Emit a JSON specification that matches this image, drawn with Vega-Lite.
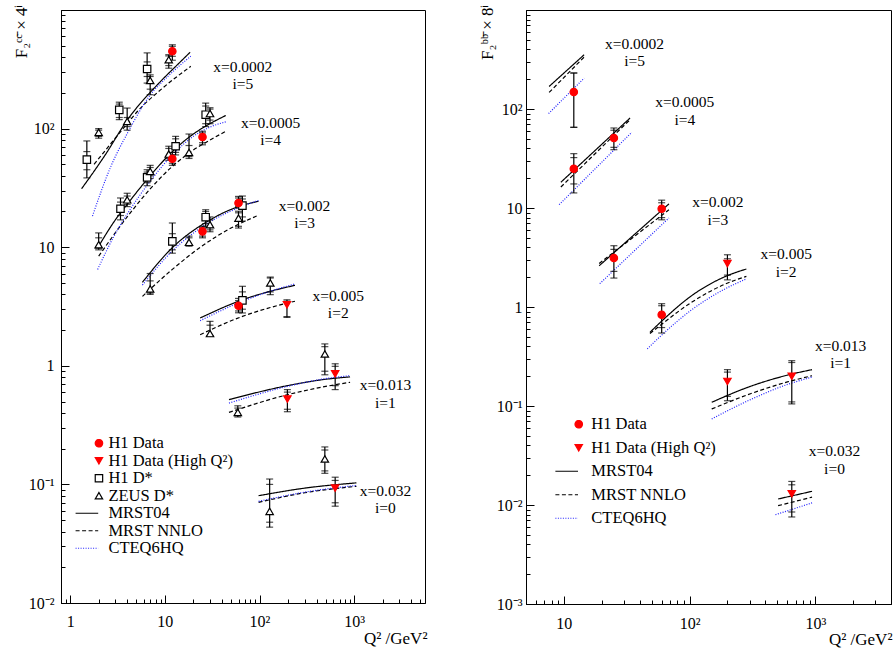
{
  "$schema": "https://vega.github.io/schema/vega-lite/v6.json",
  "background": "white",
  "autosize": {"type": "pad"},
  "padding": {"left": 11, "top": 1, "right": 0, "bottom": 0},
  "spacing": 101,
  "bounds": "flush",
  "resolve": {
    "scale": {"x": "independent", "y": "independent", "stroke": "independent", "strokeDash": "independent", "shape": "independent", "fill": "independent"},
    "legend": {"stroke": "independent", "strokeDash": "independent", "shape": "independent", "fill": "independent"}
  },
  "datasets": {
    "ptsL": [
      {"s": "H1 D*", "i": 5, "q2": 1.5, "f": 54.7, "lo": 38.4, "hi": 78.7, "slo": 45, "shi": 64},
      {"s": "ZEUS D*", "i": 5, "q2": 2.0, "f": 93, "lo": 83, "hi": 100, "slo": 86, "shi": 97},
      {"s": "H1 D*", "i": 5, "q2": 3.3, "f": 144, "lo": 119, "hi": 167, "slo": 124, "shi": 161},
      {"s": "ZEUS D*", "i": 5, "q2": 4.0, "f": 115, "lo": 97, "hi": 149, "slo": 104, "shi": 124},
      {"s": "H1 D*", "i": 5, "q2": 6.5, "f": 318, "lo": 242, "hi": 435, "slo": 275, "shi": 365},
      {"s": "ZEUS D*", "i": 5, "q2": 7.0, "f": 255, "lo": 193, "hi": 284, "slo": 215, "shi": 275},
      {"s": "ZEUS D*", "i": 5, "q2": 11, "f": 381, "lo": 323, "hi": 420, "slo": 340, "shi": 410},
      {"s": "H1 Data", "i": 5, "q2": 12, "f": 449, "lo": 377, "hi": 509, "slo": 407, "shi": 494},
      {"s": "ZEUS D*", "i": 4, "q2": 2.0, "f": 10.5, "lo": 9.5, "hi": 13.2, "slo": 9.8, "shi": 12},
      {"s": "H1 D*", "i": 4, "q2": 3.4, "f": 21.1, "lo": 17, "hi": 26, "slo": 18.5, "shi": 24},
      {"s": "ZEUS D*", "i": 4, "q2": 4.0, "f": 25.1, "lo": 22, "hi": 28.5, "slo": 23, "shi": 27},
      {"s": "H1 D*", "i": 4, "q2": 6.5, "f": 38.8, "lo": 33, "hi": 45, "slo": 35, "shi": 43},
      {"s": "ZEUS D*", "i": 4, "q2": 7.0, "f": 43.6, "lo": 38, "hi": 49, "slo": 40, "shi": 47},
      {"s": "ZEUS D*", "i": 4, "q2": 11, "f": 61, "lo": 54, "hi": 71, "slo": 56, "shi": 68},
      {"s": "H1 Data", "i": 4, "q2": 12, "f": 55.7, "lo": 49, "hi": 63, "slo": 51, "shi": 60},
      {"s": "H1 D*", "i": 4, "q2": 13, "f": 71, "lo": 60, "hi": 86, "slo": 63, "shi": 82},
      {"s": "ZEUS D*", "i": 4, "q2": 18, "f": 63, "lo": 56, "hi": 90, "slo": 58, "shi": 72},
      {"s": "H1 Data", "i": 4, "q2": 25, "f": 85, "lo": 73, "hi": 95, "slo": 76, "shi": 92},
      {"s": "H1 D*", "i": 4, "q2": 27, "f": 131, "lo": 104, "hi": 164, "slo": 110, "shi": 155},
      {"s": "ZEUS D*", "i": 4, "q2": 30, "f": 134, "lo": 110, "hi": 150, "slo": 118, "shi": 146},
      {"s": "ZEUS D*", "i": 3, "q2": 7.0, "f": 4.45, "lo": 4.0, "hi": 6.0, "slo": 4.1, "shi": 5.2},
      {"s": "H1 D*", "i": 3, "q2": 12, "f": 11.2, "lo": 8.9, "hi": 16, "slo": 9.5, "shi": 13},
      {"s": "ZEUS D*", "i": 3, "q2": 18, "f": 11.0, "lo": 10.2, "hi": 12.4, "slo": 10.4, "shi": 12},
      {"s": "H1 Data", "i": 3, "q2": 25, "f": 13.6, "lo": 12, "hi": 15, "slo": 12.4, "shi": 14.6},
      {"s": "H1 D*", "i": 3, "q2": 27, "f": 17.9, "lo": 15, "hi": 20.7, "slo": 15.8, "shi": 20},
      {"s": "ZEUS D*", "i": 3, "q2": 30, "f": 15.5, "lo": 13.5, "hi": 18, "slo": 14, "shi": 17},
      {"s": "ZEUS D*", "i": 3, "q2": 60, "f": 17.6, "lo": 14.5, "hi": 20.1, "slo": 15, "shi": 19.5},
      {"s": "H1 D*", "i": 3, "q2": 66, "f": 22.4, "lo": 16.6, "hi": 27, "slo": 18, "shi": 25.5},
      {"s": "H1 Data", "i": 3, "q2": 60, "f": 23.6, "lo": 21.4, "hi": 26.8, "slo": 22, "shi": 26},
      {"s": "ZEUS D*", "i": 2, "q2": 30, "f": 1.87, "lo": 1.77, "hi": 2.37, "slo": 1.8, "shi": 2.2},
      {"s": "H1 D*", "i": 2, "q2": 66, "f": 3.56, "lo": 2.79, "hi": 4.68, "slo": 3.0, "shi": 4.2},
      {"s": "H1 Data", "i": 2, "q2": 60, "f": 3.21, "lo": 2.8, "hi": 3.7, "slo": 2.9, "shi": 3.55},
      {"s": "ZEUS D*", "i": 2, "q2": 130, "f": 4.99, "lo": 3.98, "hi": 5.6, "slo": 4.2, "shi": 5.5},
      {"s": "H1 Data (High Q²)", "i": 2, "q2": 195, "f": 3.27, "lo": 2.56, "hi": 3.6, "slo": 2.6, "shi": 3.5},
      {"s": "ZEUS D*", "i": 1, "q2": 59, "f": 0.405, "lo": 0.37, "hi": 0.46, "slo": 0.38, "shi": 0.44},
      {"s": "H1 Data (High Q²)", "i": 1, "q2": 197, "f": 0.525, "lo": 0.41, "hi": 0.63, "slo": 0.43, "shi": 0.6},
      {"s": "ZEUS D*", "i": 1, "q2": 490, "f": 1.26, "lo": 0.84, "hi": 1.53, "slo": 0.9, "shi": 1.45},
      {"s": "H1 Data (High Q²)", "i": 1, "q2": 630, "f": 0.857, "lo": 0.63, "hi": 1.04, "slo": 0.68, "shi": 0.99},
      {"s": "ZEUS D*", "i": 0, "q2": 128, "f": 0.0593, "lo": 0.0436, "hi": 0.111, "slo": 0.048, "shi": 0.1},
      {"s": "ZEUS D*", "i": 0, "q2": 490, "f": 0.164, "lo": 0.124, "hi": 0.207, "slo": 0.13, "shi": 0.195},
      {"s": "H1 Data (High Q²)", "i": 0, "q2": 630, "f": 0.093, "lo": 0.0655, "hi": 0.115, "slo": 0.07, "shi": 0.108}
    ],
    "crvL": [
      {"s": "MRST04", "i": 5, "q2": 1.32, "f": 31.1}, {"s": "MRST04", "i": 5, "q2": 2.29, "f": 58.3}, {"s": "MRST04", "i": 5, "q2": 4.04, "f": 119}, {"s": "MRST04", "i": 5, "q2": 9.06, "f": 251}, {"s": "MRST04", "i": 5, "q2": 13.6, "f": 346}, {"s": "MRST04", "i": 5, "q2": 18.5, "f": 440},
      {"s": "MRST NNLO", "i": 5, "q2": 1.79, "f": 50}, {"s": "MRST NNLO", "i": 5, "q2": 4.04, "f": 111}, {"s": "MRST NNLO", "i": 5, "q2": 5.15, "f": 140}, {"s": "MRST NNLO", "i": 5, "q2": 9.06, "f": 213}, {"s": "MRST NNLO", "i": 5, "q2": 18.8, "f": 335},
      {"s": "CTEQ6HQ", "i": 5, "q2": 1.72, "f": 18.3}, {"s": "CTEQ6HQ", "i": 5, "q2": 2.69, "f": 48}, {"s": "CTEQ6HQ", "i": 5, "q2": 4.04, "f": 92}, {"s": "CTEQ6HQ", "i": 5, "q2": 6.83, "f": 187}, {"s": "CTEQ6HQ", "i": 5, "q2": 11, "f": 280}, {"s": "CTEQ6HQ", "i": 5, "q2": 18.8, "f": 408},
      {"s": "MRST04", "i": 4, "q2": 2.0, "f": 10.2}, {"s": "MRST04", "i": 4, "q2": 3.0, "f": 17}, {"s": "MRST04", "i": 4, "q2": 4.0, "f": 23}, {"s": "MRST04", "i": 4, "q2": 7.0, "f": 40}, {"s": "MRST04", "i": 4, "q2": 12, "f": 64}, {"s": "MRST04", "i": 4, "q2": 20, "f": 90}, {"s": "MRST04", "i": 4, "q2": 30, "f": 110}, {"s": "MRST04", "i": 4, "q2": 44, "f": 129},
      {"s": "MRST NNLO", "i": 4, "q2": 2.0, "f": 8.4}, {"s": "MRST NNLO", "i": 4, "q2": 4.0, "f": 18}, {"s": "MRST NNLO", "i": 4, "q2": 7.0, "f": 31}, {"s": "MRST NNLO", "i": 4, "q2": 12, "f": 48}, {"s": "MRST NNLO", "i": 4, "q2": 20, "f": 66}, {"s": "MRST NNLO", "i": 4, "q2": 30, "f": 80}, {"s": "MRST NNLO", "i": 4, "q2": 44, "f": 95},
      {"s": "CTEQ6HQ", "i": 4, "q2": 1.95, "f": 6.5}, {"s": "CTEQ6HQ", "i": 4, "q2": 3.0, "f": 13}, {"s": "CTEQ6HQ", "i": 4, "q2": 4.0, "f": 19}, {"s": "CTEQ6HQ", "i": 4, "q2": 7.0, "f": 36}, {"s": "CTEQ6HQ", "i": 4, "q2": 12, "f": 60}, {"s": "CTEQ6HQ", "i": 4, "q2": 20, "f": 86}, {"s": "CTEQ6HQ", "i": 4, "q2": 30, "f": 103}, {"s": "CTEQ6HQ", "i": 4, "q2": 44, "f": 114},
      {"s": "MRST04", "i": 3, "q2": 5.8, "f": 5.06}, {"s": "MRST04", "i": 3, "q2": 11.9, "f": 9.84}, {"s": "MRST04", "i": 3, "q2": 28.2, "f": 16.5}, {"s": "MRST04", "i": 3, "q2": 60, "f": 22}, {"s": "MRST04", "i": 3, "q2": 97.8, "f": 24.4},
      {"s": "MRST NNLO", "i": 3, "q2": 5.8, "f": 3.85}, {"s": "MRST NNLO", "i": 3, "q2": 12, "f": 6.5}, {"s": "MRST NNLO", "i": 3, "q2": 24.6, "f": 10.2}, {"s": "MRST NNLO", "i": 3, "q2": 50, "f": 14.5}, {"s": "MRST NNLO", "i": 3, "q2": 97.8, "f": 18.6},
      {"s": "CTEQ6HQ", "i": 3, "q2": 5.8, "f": 4.8}, {"s": "CTEQ6HQ", "i": 3, "q2": 12, "f": 9.3}, {"s": "CTEQ6HQ", "i": 3, "q2": 28, "f": 15.8}, {"s": "CTEQ6HQ", "i": 3, "q2": 60, "f": 21.5}, {"s": "CTEQ6HQ", "i": 3, "q2": 97.8, "f": 24.8},
      {"s": "MRST04", "i": 2, "q2": 23.6, "f": 2.53}, {"s": "MRST04", "i": 2, "q2": 66, "f": 3.6}, {"s": "MRST04", "i": 2, "q2": 130, "f": 4.25}, {"s": "MRST04", "i": 2, "q2": 237, "f": 4.77},
      {"s": "MRST NNLO", "i": 2, "q2": 23.6, "f": 1.83}, {"s": "MRST NNLO", "i": 2, "q2": 66, "f": 2.61}, {"s": "MRST NNLO", "i": 2, "q2": 130, "f": 3.1}, {"s": "MRST NNLO", "i": 2, "q2": 237, "f": 3.5},
      {"s": "CTEQ6HQ", "i": 2, "q2": 23.6, "f": 2.4}, {"s": "CTEQ6HQ", "i": 2, "q2": 66, "f": 3.5}, {"s": "CTEQ6HQ", "i": 2, "q2": 130, "f": 4.25}, {"s": "CTEQ6HQ", "i": 2, "q2": 237, "f": 4.9},
      {"s": "MRST04", "i": 1, "q2": 47.6, "f": 0.518}, {"s": "MRST04", "i": 1, "q2": 197, "f": 0.68}, {"s": "MRST04", "i": 1, "q2": 500, "f": 0.77}, {"s": "MRST04", "i": 1, "q2": 905, "f": 0.806},
      {"s": "MRST NNLO", "i": 1, "q2": 47.6, "f": 0.405}, {"s": "MRST NNLO", "i": 1, "q2": 197, "f": 0.57}, {"s": "MRST NNLO", "i": 1, "q2": 500, "f": 0.67}, {"s": "MRST NNLO", "i": 1, "q2": 905, "f": 0.726},
      {"s": "CTEQ6HQ", "i": 1, "q2": 47.6, "f": 0.485}, {"s": "CTEQ6HQ", "i": 1, "q2": 197, "f": 0.67}, {"s": "CTEQ6HQ", "i": 1, "q2": 500, "f": 0.78}, {"s": "CTEQ6HQ", "i": 1, "q2": 905, "f": 0.826},
      {"s": "MRST04", "i": 0, "q2": 97.8, "f": 0.0803}, {"s": "MRST04", "i": 0, "q2": 300, "f": 0.093}, {"s": "MRST04", "i": 0, "q2": 1056, "f": 0.103},
      {"s": "MRST NNLO", "i": 0, "q2": 97.8, "f": 0.0706}, {"s": "MRST NNLO", "i": 0, "q2": 300, "f": 0.085}, {"s": "MRST NNLO", "i": 0, "q2": 1056, "f": 0.0964},
      {"s": "CTEQ6HQ", "i": 0, "q2": 97.8, "f": 0.072}, {"s": "CTEQ6HQ", "i": 0, "q2": 300, "f": 0.086}, {"s": "CTEQ6HQ", "i": 0, "q2": 1056, "f": 0.098}
    ],
    "txtL": [
      {"q2": 66.6, "f": 302, "t": "x=0.0002\ni=5"},
      {"q2": 131, "f": 102, "t": "x=0.0005\ni=4"},
      {"q2": 299, "f": 20.3, "t": "x=0.002\ni=3"},
      {"q2": 679, "f": 3.55, "t": "x=0.005\ni=2"},
      {"q2": 2140, "f": 0.62, "t": "x=0.013\ni=1"},
      {"q2": 2140, "f": 0.0805, "t": "x=0.032\ni=0"}
    ],
    "ptsR": [
      {"s": "H1 Data", "i": 5, "q2": 12, "f": 148.6, "lo": 65.3, "hi": 231, "slo": 65.3, "shi": 231},
      {"s": "H1 Data", "i": 4, "q2": 12, "f": 24.9, "lo": 14.2, "hi": 35.4, "slo": 17.5, "shi": 32.3},
      {"s": "H1 Data", "i": 4, "q2": 25, "f": 50.9, "lo": 38.8, "hi": 64.3, "slo": 41, "shi": 61},
      {"s": "H1 Data", "i": 3, "q2": 25, "f": 3.13, "lo": 1.96, "hi": 4.16, "slo": 2.29, "shi": 3.82},
      {"s": "H1 Data", "i": 3, "q2": 60, "f": 9.84, "lo": 7.6, "hi": 12.0, "slo": 8.0, "shi": 11.3},
      {"s": "H1 Data", "i": 2, "q2": 60, "f": 0.836, "lo": 0.546, "hi": 1.08, "slo": 0.62, "shi": 1.03},
      {"s": "H1 Data (High Q²)", "i": 2, "q2": 200, "f": 2.74, "lo": 1.88, "hi": 3.37, "slo": 2.1, "shi": 3.07},
      {"s": "H1 Data (High Q²)", "i": 1, "q2": 200, "f": 0.177, "lo": 0.113, "hi": 0.233, "slo": 0.125, "shi": 0.22},
      {"s": "H1 Data (High Q²)", "i": 1, "q2": 650, "f": 0.2, "lo": 0.105, "hi": 0.287, "slo": 0.11, "shi": 0.275},
      {"s": "H1 Data (High Q²)", "i": 0, "q2": 650, "f": 0.013, "lo": 0.00757, "hi": 0.0173, "slo": 0.0085, "shi": 0.016}
    ],
    "crvR": [
      {"s": "MRST04", "i": 5, "q2": 7.64, "f": 169}, {"s": "MRST04", "i": 5, "q2": 14.5, "f": 353},
      {"s": "MRST NNLO", "i": 5, "q2": 7.64, "f": 147}, {"s": "MRST NNLO", "i": 5, "q2": 14.5, "f": 335},
      {"s": "CTEQ6HQ", "i": 5, "q2": 7.56, "f": 90}, {"s": "CTEQ6HQ", "i": 5, "q2": 14.5, "f": 205},
      {"s": "MRST04", "i": 4, "q2": 9.47, "f": 18.2}, {"s": "MRST04", "i": 4, "q2": 33.6, "f": 81},
      {"s": "MRST NNLO", "i": 4, "q2": 9.47, "f": 16.3}, {"s": "MRST NNLO", "i": 4, "q2": 33.6, "f": 78},
      {"s": "CTEQ6HQ", "i": 4, "q2": 9.18, "f": 10.8}, {"s": "CTEQ6HQ", "i": 4, "q2": 34.7, "f": 58.2},
      {"s": "MRST04", "i": 3, "q2": 19.1, "f": 2.61}, {"s": "MRST04", "i": 3, "q2": 68.5, "f": 11.0},
      {"s": "MRST NNLO", "i": 3, "q2": 19.1, "f": 2.75}, {"s": "MRST NNLO", "i": 3, "q2": 68.5, "f": 9.6},
      {"s": "CTEQ6HQ", "i": 3, "q2": 19.3, "f": 1.72}, {"s": "CTEQ6HQ", "i": 3, "q2": 68.5, "f": 7.93},
      {"s": "MRST04", "i": 2, "q2": 48.4, "f": 0.555}, {"s": "MRST04", "i": 2, "q2": 60, "f": 0.72}, {"s": "MRST04", "i": 2, "q2": 102, "f": 1.28}, {"s": "MRST04", "i": 2, "q2": 187, "f": 2.0}, {"s": "MRST04", "i": 2, "q2": 283, "f": 2.42},
      {"s": "MRST NNLO", "i": 2, "q2": 48.4, "f": 0.54}, {"s": "MRST NNLO", "i": 2, "q2": 60, "f": 0.67}, {"s": "MRST NNLO", "i": 2, "q2": 102, "f": 1.1}, {"s": "MRST NNLO", "i": 2, "q2": 187, "f": 1.68}, {"s": "MRST NNLO", "i": 2, "q2": 283, "f": 2.04},
      {"s": "CTEQ6HQ", "i": 2, "q2": 46.1, "f": 0.377}, {"s": "CTEQ6HQ", "i": 2, "q2": 60, "f": 0.52}, {"s": "CTEQ6HQ", "i": 2, "q2": 102, "f": 0.92}, {"s": "CTEQ6HQ", "i": 2, "q2": 187, "f": 1.5}, {"s": "CTEQ6HQ", "i": 2, "q2": 283, "f": 1.92},
      {"s": "MRST04", "i": 1, "q2": 150, "f": 0.109}, {"s": "MRST04", "i": 1, "q2": 305, "f": 0.158}, {"s": "MRST04", "i": 1, "q2": 600, "f": 0.205}, {"s": "MRST04", "i": 1, "q2": 942, "f": 0.233},
      {"s": "MRST NNLO", "i": 1, "q2": 150, "f": 0.0933}, {"s": "MRST NNLO", "i": 1, "q2": 305, "f": 0.133}, {"s": "MRST NNLO", "i": 1, "q2": 600, "f": 0.175}, {"s": "MRST NNLO", "i": 1, "q2": 942, "f": 0.202},
      {"s": "CTEQ6HQ", "i": 1, "q2": 150, "f": 0.074}, {"s": "CTEQ6HQ", "i": 1, "q2": 305, "f": 0.116}, {"s": "CTEQ6HQ", "i": 1, "q2": 600, "f": 0.165}, {"s": "CTEQ6HQ", "i": 1, "q2": 942, "f": 0.196},
      {"s": "MRST04", "i": 0, "q2": 506, "f": 0.0115}, {"s": "MRST04", "i": 0, "q2": 942, "f": 0.01375},
      {"s": "MRST NNLO", "i": 0, "q2": 506, "f": 0.00984}, {"s": "MRST NNLO", "i": 0, "q2": 942, "f": 0.012},
      {"s": "CTEQ6HQ", "i": 0, "q2": 482, "f": 0.00798}, {"s": "CTEQ6HQ", "i": 0, "q2": 942, "f": 0.0105}
    ],
    "txtR": [
      {"q2": 36.5, "f": 405, "t": "x=0.0002\ni=5"},
      {"q2": 91.6, "f": 104, "t": "x=0.0005\ni=4"},
      {"q2": 168, "f": 10.2, "t": "x=0.002\ni=3"},
      {"q2": 587, "f": 3.05, "t": "x=0.005\ni=2"},
      {"q2": 1592, "f": 0.363, "t": "x=0.013\ni=1"},
      {"q2": 1422, "f": 0.0311, "t": "x=0.032\ni=0"}
    ]
  },
  "hconcat": [
    {
      "width": 364,
      "height": 593,
      "encoding": {
        "x": {"field": "q2", "type": "quantitative",
          "scale": {"type": "log", "domain": [0.8, 5600], "nice": false},
          "axis": {
            "title": "Q² /GeV²",
            "values": [0.8, 0.9, 1, 2, 3, 4, 5, 6, 7, 8, 9, 10, 20, 30, 40, 50, 60, 70, 80, 90, 100, 200, 300, 400, 500, 600, 700, 800, 900, 1000, 2000, 3000, 4000, 5000],
            "labelExpr": "datum.value==1?'1':datum.value==10?'10':datum.value==100?'10²':datum.value==1000?'10³':''",
            "tickSize": {"condition": {"test": "datum.value==1||datum.value==10||datum.value==100||datum.value==1000", "value": -8}, "value": -4},
            "labelPadding": 18,
            "titleX": 366, "titleY": 40, "titleAlign": "right", "titleBaseline": "alphabetic", "titleAnchor": "end"
          }
        },
        "y": {"field": "f", "type": "quantitative",
          "scale": {"type": "log", "domain": [0.01, 1000], "nice": false},
          "axis": {
            "title": "F₂ᶜᶜ̄ × 4ⁱ",
            "values": [0.01, 0.02, 0.03, 0.04, 0.05, 0.06, 0.07, 0.08, 0.09, 0.1, 0.2, 0.3, 0.4, 0.5, 0.6, 0.7, 0.8, 0.9, 1, 2, 3, 4, 5, 6, 7, 8, 9, 10, 20, 30, 40, 50, 60, 70, 80, 90, 100, 200, 300, 400, 500, 600, 700, 800, 900, 1000],
            "labelExpr": "datum.value==0.01?'10⁻²':datum.value==0.1?'10⁻¹':datum.value==1?'1':datum.value==10?'10':datum.value==100?'10²':''",
            "tickSize": {"condition": {"test": "datum.value==0.01||datum.value==0.1||datum.value==1||datum.value==10||datum.value==100||datum.value==1000", "value": -8}, "value": -4},
            "labelPadding": 15,
            "titleX": -35, "titleY": -6, "titleAngle": -90, "titleAlign": "right", "titleBaseline": "alphabetic"
          }
        }
      },
      "layer": [
        {
          "data": {"name": "crvL"},
          "mark": {"type": "line", "interpolate": "monotone", "strokeWidth": 1.2},
          "encoding": {
            "detail": {"field": "i", "type": "nominal"},
            "stroke": {"field": "s", "type": "nominal",
              "scale": {"domain": ["H1 Data", "H1 Data (High Q²)", "H1 D*", "ZEUS D*", "MRST04", "MRST NNLO", "CTEQ6HQ"], "range": ["#ff0000", "#ff0000", "#000000", "#000000", "#000000", "#000000", "#2020ff"]},
              "legend": {"orient": "none", "legendX": 29.7, "legendY": 425, "title": null, "padding": 0, "labelFont": "Liberation Serif", "labelFontSize": 16.5, "labelColor": "black", "symbolSize": 55, "symbolStrokeWidth": 1.2, "rowPadding": 0.5, "labelOffset": 1.2, "labelLimit": 300}},
            "strokeDash": {"field": "s", "type": "nominal",
              "scale": {"domain": ["H1 Data", "H1 Data (High Q²)", "H1 D*", "ZEUS D*", "MRST04", "MRST NNLO", "CTEQ6HQ"], "range": [[1, 0], [1, 0], [1, 0], [1, 0], [1, 0], [4, 2.5], [1, 1.5]]},
              "legend": {"orient": "none", "legendX": 29.7, "legendY": 425, "title": null, "padding": 0, "labelFont": "Liberation Serif", "labelFontSize": 16.5, "labelColor": "black", "symbolSize": 55, "symbolStrokeWidth": 1.2, "rowPadding": 0.5, "labelOffset": 1.2, "labelLimit": 300}}
          }
        },
        {
          "data": {"name": "ptsL"},
          "mark": {"type": "rule", "color": "black", "strokeWidth": 1.2},
          "encoding": {"y2": {"field": "hi"}}
        },
        {
          "data": {"name": "ptsL"},
          "mark": {"type": "rule", "color": "black", "strokeWidth": 1.2},
          "encoding": {"y2": {"field": "lo"}}
        },
        {
          "data": {"name": "ptsL"},
          "transform": [{"fold": ["hi", "lo", "shi", "slo"], "as": ["k", "f"]}],
          "mark": {"type": "tick", "orient": "horizontal", "color": "black", "thickness": 1.2, "size": 7},
          "encoding": {}
        },
        {
          "data": {"name": "ptsL"},
          "mark": {"type": "point", "size": 55, "strokeWidth": 1.2, "opacity": 1},
          "encoding": {
            "shape": {"field": "s", "type": "nominal",
              "scale": {"domain": ["H1 Data", "H1 Data (High Q²)", "H1 D*", "ZEUS D*", "MRST04", "MRST NNLO", "CTEQ6HQ"], "range": ["circle", "triangle-down", "square", "triangle-up", "M-6.3,0L-0.2,0", "M-6.3,0L-0.2,0", "M-6.3,0L-0.2,0"]},
              "legend": {"orient": "none", "legendX": 29.7, "legendY": 425, "title": null, "padding": 0, "labelFont": "Liberation Serif", "labelFontSize": 16.5, "labelColor": "black", "symbolSize": 55, "symbolStrokeWidth": 1.2, "rowPadding": 0.5, "labelOffset": 1.2, "labelLimit": 300}},
            "fill": {"field": "s", "type": "nominal",
              "scale": {"domain": ["H1 Data", "H1 Data (High Q²)", "H1 D*", "ZEUS D*", "MRST04", "MRST NNLO", "CTEQ6HQ"], "range": ["#ff0000", "#ff0000", "#ffffff", "#ffffff", "transparent", "transparent", "transparent"]},
              "legend": {"orient": "none", "legendX": 29.7, "legendY": 425, "title": null, "padding": 0, "labelFont": "Liberation Serif", "labelFontSize": 16.5, "labelColor": "black", "symbolSize": 55, "symbolStrokeWidth": 1.2, "rowPadding": 0.5, "labelOffset": 1.2, "labelLimit": 300}},
            "stroke": {"field": "s", "type": "nominal",
              "scale": {"domain": ["H1 Data", "H1 Data (High Q²)", "H1 D*", "ZEUS D*", "MRST04", "MRST NNLO", "CTEQ6HQ"], "range": ["#ff0000", "#ff0000", "#000000", "#000000", "#000000", "#000000", "#2020ff"]},
              "legend": {"orient": "none", "legendX": 29.7, "legendY": 425, "title": null, "padding": 0, "labelFont": "Liberation Serif", "labelFontSize": 16.5, "labelColor": "black", "symbolSize": 55, "symbolStrokeWidth": 1.2, "rowPadding": 0.5, "labelOffset": 1.2, "labelLimit": 300}}
          }
        },
        {
          "data": {"name": "txtL"},
          "mark": {"type": "text", "align": "center", "baseline": "alphabetic", "font": "Liberation Serif", "fontSize": 15.5, "lineBreak": "\n", "lineHeight": 17.6, "color": "black"},
          "encoding": {"text": {"field": "t", "type": "nominal"}}
        }
      ]
    },
    {
      "width": 365,
      "height": 594,
      "encoding": {
        "x": {"field": "q2", "type": "quantitative",
          "scale": {"type": "log", "domain": [5, 4000], "nice": false},
          "axis": {
            "title": "Q² /GeV²",
            "values": [5, 6, 7, 8, 9, 10, 20, 30, 40, 50, 60, 70, 80, 90, 100, 200, 300, 400, 500, 600, 700, 800, 900, 1000, 2000, 3000, 4000],
            "labelExpr": "datum.value==10?'10':datum.value==100?'10²':datum.value==1000?'10³':''",
            "tickSize": {"condition": {"test": "datum.value==10||datum.value==100||datum.value==1000", "value": -8}, "value": -4},
            "labelPadding": 19,
            "titleX": 366, "titleY": 40, "titleAlign": "right", "titleBaseline": "alphabetic", "titleAnchor": "end"
          }
        },
        "y": {"field": "f", "type": "quantitative",
          "scale": {"type": "log", "domain": [0.001, 1000], "nice": false},
          "axis": {
            "title": "F₂ᵇᵇ̄ × 8ⁱ",
            "values": [0.001, 0.002, 0.003, 0.004, 0.005, 0.006, 0.007, 0.008, 0.009, 0.01, 0.02, 0.03, 0.04, 0.05, 0.06, 0.07, 0.08, 0.09, 0.1, 0.2, 0.3, 0.4, 0.5, 0.6, 0.7, 0.8, 0.9, 1, 2, 3, 4, 5, 6, 7, 8, 9, 10, 20, 30, 40, 50, 60, 70, 80, 90, 100, 200, 300, 400, 500, 600, 700, 800, 900, 1000],
            "labelExpr": "datum.value==0.001?'10⁻³':datum.value==0.01?'10⁻²':datum.value==0.1?'10⁻¹':datum.value==1?'1':datum.value==10?'10':datum.value==100?'10²':''",
            "tickSize": {"condition": {"test": "datum.value==0.001||datum.value==0.01||datum.value==0.1||datum.value==1||datum.value==10||datum.value==100||datum.value==1000", "value": -8}, "value": -4},
            "labelPadding": 12,
            "titleX": -34, "titleY": -6, "titleAngle": -90, "titleAlign": "right", "titleBaseline": "alphabetic"
          }
        }
      },
      "layer": [
        {
          "data": {"name": "crvR"},
          "mark": {"type": "line", "interpolate": "monotone", "strokeWidth": 1.2},
          "encoding": {
            "detail": {"field": "i", "type": "nominal"},
            "stroke": {"field": "s", "type": "nominal",
              "scale": {"domain": ["H1 Data", "H1 Data (High Q²)", "MRST04", "MRST NNLO", "CTEQ6HQ"], "range": ["#ff0000", "#ff0000", "#000000", "#000000", "#2020ff"]},
              "legend": {"orient": "none", "legendX": 44.5, "legendY": 406, "title": null, "padding": 0, "labelFont": "Liberation Serif", "labelFontSize": 16.5, "labelColor": "black", "symbolSize": 55, "symbolStrokeWidth": 1.2, "rowPadding": 6.5, "labelOffset": 4.3, "labelLimit": 300}},
            "strokeDash": {"field": "s", "type": "nominal",
              "scale": {"domain": ["H1 Data", "H1 Data (High Q²)", "MRST04", "MRST NNLO", "CTEQ6HQ"], "range": [[1, 0], [1, 0], [1, 0], [4, 2.5], [1, 1.5]]},
              "legend": {"orient": "none", "legendX": 44.5, "legendY": 406, "title": null, "padding": 0, "labelFont": "Liberation Serif", "labelFontSize": 16.5, "labelColor": "black", "symbolSize": 55, "symbolStrokeWidth": 1.2, "rowPadding": 6.5, "labelOffset": 4.3, "labelLimit": 300}}
          }
        },
        {
          "data": {"name": "ptsR"},
          "mark": {"type": "rule", "color": "black", "strokeWidth": 1.2},
          "encoding": {"y2": {"field": "hi"}}
        },
        {
          "data": {"name": "ptsR"},
          "mark": {"type": "rule", "color": "black", "strokeWidth": 1.2},
          "encoding": {"y2": {"field": "lo"}}
        },
        {
          "data": {"name": "ptsR"},
          "transform": [{"fold": ["hi", "lo", "shi", "slo"], "as": ["k", "f"]}],
          "mark": {"type": "tick", "orient": "horizontal", "color": "black", "thickness": 1.2, "size": 7},
          "encoding": {}
        },
        {
          "data": {"name": "ptsR"},
          "mark": {"type": "point", "size": 55, "strokeWidth": 1.2, "opacity": 1},
          "encoding": {
            "shape": {"field": "s", "type": "nominal",
              "scale": {"domain": ["H1 Data", "H1 Data (High Q²)", "MRST04", "MRST NNLO", "CTEQ6HQ"], "range": ["circle", "triangle-down", "M-6.3,0L-0.2,0", "M-6.3,0L-0.2,0", "M-6.3,0L-0.2,0"]},
              "legend": {"orient": "none", "legendX": 44.5, "legendY": 406, "title": null, "padding": 0, "labelFont": "Liberation Serif", "labelFontSize": 16.5, "labelColor": "black", "symbolSize": 55, "symbolStrokeWidth": 1.2, "rowPadding": 6.5, "labelOffset": 4.3, "labelLimit": 300}},
            "fill": {"field": "s", "type": "nominal",
              "scale": {"domain": ["H1 Data", "H1 Data (High Q²)", "MRST04", "MRST NNLO", "CTEQ6HQ"], "range": ["#ff0000", "#ff0000", "transparent", "transparent", "transparent"]},
              "legend": {"orient": "none", "legendX": 44.5, "legendY": 406, "title": null, "padding": 0, "labelFont": "Liberation Serif", "labelFontSize": 16.5, "labelColor": "black", "symbolSize": 55, "symbolStrokeWidth": 1.2, "rowPadding": 6.5, "labelOffset": 4.3, "labelLimit": 300}},
            "stroke": {"field": "s", "type": "nominal",
              "scale": {"domain": ["H1 Data", "H1 Data (High Q²)", "MRST04", "MRST NNLO", "CTEQ6HQ"], "range": ["#ff0000", "#ff0000", "#000000", "#000000", "#2020ff"]},
              "legend": {"orient": "none", "legendX": 44.5, "legendY": 406, "title": null, "padding": 0, "labelFont": "Liberation Serif", "labelFontSize": 16.5, "labelColor": "black", "symbolSize": 55, "symbolStrokeWidth": 1.2, "rowPadding": 6.5, "labelOffset": 4.3, "labelLimit": 300}}
          }
        },
        {
          "data": {"name": "txtR"},
          "mark": {"type": "text", "align": "center", "baseline": "alphabetic", "font": "Liberation Serif", "fontSize": 15.5, "lineBreak": "\n", "lineHeight": 17.6, "color": "black"},
          "encoding": {"text": {"field": "t", "type": "nominal"}}
        }
      ]
    }
  ],
  "config": {
    "view": {"stroke": "black", "strokeWidth": 1},
    "font": "Liberation Serif",
    "axis": {
      "grid": false,
      "domainColor": "black",
      "domainWidth": 1,
      "tickColor": "black",
      "tickWidth": 1,
      "labelColor": "black",
      "labelFont": "Liberation Serif",
      "labelFontSize": 16,
      "titleColor": "black",
      "titleFont": "Liberation Serif",
      "titleFontSize": 17,
      "titleFontWeight": "normal",
      "labelFlush": false,
      "labelOverlap": false,
      "labelBound": false
    }
  }
}
